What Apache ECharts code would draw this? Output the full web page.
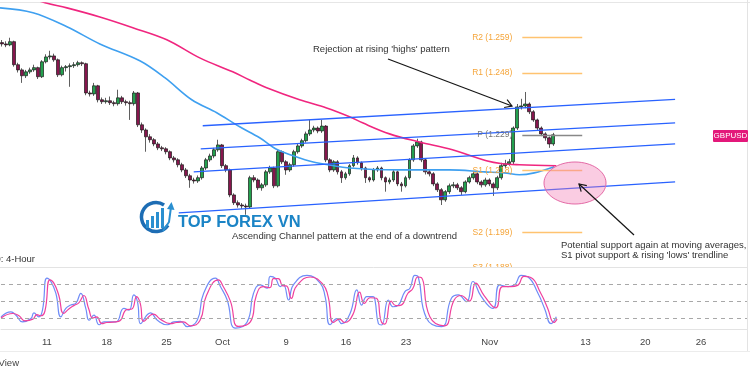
<!DOCTYPE html>
<html>
<head>
<meta charset="utf-8">
<script src="https://cdn.jsdelivr.net/npm/echarts@6.0.0/dist/echarts.min.js"></script>
<style>
  html, body { margin: 0; padding: 0; background: #fff; }
  #chart { width: 750px; height: 375px; }
</style>
</head>
<body>
<div id="chart"></div>
<script>
// 时间轴：每个槽位一根 4H K 线
const slotCount = 187
const dateSlots = [11, 26, 41, 55, 71, 86, 101, 122, 146, 161, 175]
const dateLabels = ['11', '18', '25', 'Oct', '9', '16', '23', 'Nov', '13', '20', '26']

// K 线数据
const openP = [1.2574,1.2570,1.2567,1.2577,1.2506,1.2490,1.2472,1.2484,1.2490,1.2497,
  1.2469,1.2515,1.2530,1.2533,1.2521,1.2475,1.2497,1.2500,1.2503,1.2506,
  1.2512,1.2509,1.2419,1.2416,1.2441,1.2398,1.2392,1.2395,1.2389,1.2386,
  1.2404,1.2392,1.2389,1.2386,1.2419,1.2321,1.2305,1.2284,1.2275,1.2262,
  1.2250,1.2247,1.2238,1.2219,1.2213,1.2198,1.2182,1.2164,1.2151,1.2148,
  1.2158,1.2188,1.2213,1.2225,1.2244,1.2259,1.2195,1.2182,1.2105,1.2081,
  1.2074,1.2071,1.2068,1.2158,1.2151,1.2127,1.2136,1.2176,1.2188,1.2133,
  1.2238,1.2207,1.2182,1.2198,1.2238,1.2256,1.2272,1.2293,1.2305,1.2311,
  1.2302,1.2317,1.2213,1.2182,1.2207,1.2176,1.2158,1.2170,1.2195,1.2219,
  1.2204,1.2188,1.2158,1.2151,1.2182,1.2188,1.2158,1.2145,1.2151,1.2176,
  1.2139,1.2133,1.2158,1.2213,1.2256,1.2268,1.2213,1.2176,1.2170,1.2139,
  1.2121,1.2090,1.2115,1.2133,1.2136,1.2127,1.2115,1.2145,1.2158,1.2170,
  1.2145,1.2136,1.2151,1.2139,1.2127,1.2158,1.2195,1.2201,1.2207,1.2311,
  1.2376,1.2379,1.2385,1.2361,1.2336,1.2311,1.2293,1.2281,1.2262]
const closeP = [1.2570,1.2567,1.2577,1.2506,1.2490,1.2472,1.2484,1.2490,1.2497,1.2469,
  1.2515,1.2530,1.2533,1.2521,1.2475,1.2497,1.2500,1.2503,1.2506,1.2512,
  1.2509,1.2419,1.2416,1.2441,1.2398,1.2392,1.2395,1.2389,1.2386,1.2404,
  1.2392,1.2389,1.2386,1.2419,1.2321,1.2305,1.2284,1.2275,1.2262,1.2250,
  1.2247,1.2238,1.2219,1.2213,1.2198,1.2182,1.2164,1.2151,1.2148,1.2158,
  1.2188,1.2213,1.2225,1.2244,1.2259,1.2195,1.2182,1.2105,1.2081,1.2074,
  1.2071,1.2068,1.2158,1.2151,1.2127,1.2136,1.2176,1.2188,1.2133,1.2238,
  1.2207,1.2182,1.2198,1.2238,1.2256,1.2272,1.2293,1.2305,1.2311,1.2302,
  1.2317,1.2213,1.2182,1.2207,1.2176,1.2158,1.2170,1.2195,1.2219,1.2204,
  1.2188,1.2158,1.2151,1.2182,1.2188,1.2158,1.2145,1.2151,1.2176,1.2139,
  1.2133,1.2158,1.2213,1.2256,1.2268,1.2213,1.2176,1.2170,1.2139,1.2121,
  1.2090,1.2115,1.2133,1.2136,1.2127,1.2115,1.2145,1.2158,1.2170,1.2145,
  1.2136,1.2151,1.2139,1.2127,1.2158,1.2195,1.2201,1.2207,1.2311,1.2376,
  1.2379,1.2385,1.2361,1.2336,1.2311,1.2293,1.2281,1.2262,1.2290]
const lowP = [1.2562,1.2560,1.2563,1.2500,1.2482,1.2450,1.2465,1.2478,1.2484,1.2462,
  1.2465,1.2510,1.2522,1.2515,1.2468,1.2470,1.2485,1.2438,1.2496,1.2500,
  1.2502,1.2412,1.2408,1.2410,1.2390,1.2385,1.2386,1.2382,1.2378,1.2380,
  1.2385,1.2380,1.2336,1.2380,1.2314,1.2296,1.2238,1.2266,1.2255,1.2243,
  1.2240,1.2230,1.2212,1.2205,1.2190,1.2175,1.2157,1.2127,1.2140,1.2142,
  1.2152,1.2182,1.2207,1.2218,1.2238,1.2188,1.2175,1.2098,1.2074,1.2066,
  1.2062,1.2044,1.2062,1.2144,1.2120,1.2118,1.2130,1.2170,1.2126,1.2128,
  1.2200,1.2167,1.2176,1.2192,1.2232,1.2250,1.2266,1.2287,1.2298,1.2295,
  1.2296,1.2206,1.2175,1.2176,1.2168,1.2142,1.2152,1.2164,1.2190,1.2198,
  1.2180,1.2142,1.2144,1.2146,1.2176,1.2150,1.2115,1.2138,1.2145,1.2132,
  1.2115,1.2128,1.2152,1.2207,1.2250,1.2206,1.2168,1.2162,1.2132,1.2114,
  1.2074,1.2084,1.2108,1.2126,1.2120,1.2105,1.2110,1.2140,1.2152,1.2138,
  1.2128,1.2130,1.2132,1.2102,1.2120,1.2152,1.2188,1.2195,1.2200,1.2305,
  1.2368,1.2372,1.2354,1.2330,1.2304,1.2286,1.2272,1.2250,1.2256]
const highP = [1.2582,1.2578,1.2589,1.2580,1.2512,1.2495,1.2490,1.2497,1.2506,1.2500,
  1.2520,1.2538,1.2549,1.2540,1.2525,1.2503,1.2505,1.2510,1.2514,1.2518,
  1.2516,1.2512,1.2426,1.2450,1.2444,1.2405,1.2404,1.2408,1.2395,1.2429,
  1.2410,1.2398,1.2395,1.2425,1.2422,1.2328,1.2310,1.2292,1.2280,1.2268,
  1.2256,1.2252,1.2242,1.2225,1.2218,1.2204,1.2188,1.2170,1.2158,1.2165,
  1.2194,1.2219,1.2232,1.2250,1.2275,1.2262,1.2200,1.2186,1.2110,1.2088,
  1.2080,1.2078,1.2164,1.2166,1.2156,1.2142,1.2182,1.2195,1.2192,1.2244,
  1.2242,1.2212,1.2204,1.2244,1.2262,1.2278,1.2300,1.2336,1.2318,1.2316,
  1.2336,1.2320,1.2218,1.2212,1.2212,1.2182,1.2176,1.2200,1.2228,1.2224,
  1.2208,1.2192,1.2162,1.2188,1.2194,1.2192,1.2162,1.2158,1.2182,1.2180,
  1.2145,1.2164,1.2218,1.2262,1.2278,1.2272,1.2218,1.2182,1.2175,1.2144,
  1.2126,1.2120,1.2140,1.2145,1.2142,1.2132,1.2150,1.2164,1.2179,1.2174,
  1.2150,1.2158,1.2156,1.2144,1.2164,1.2204,1.2213,1.2216,1.2316,1.2385,
  1.2401,1.2422,1.2390,1.2366,1.2340,1.2316,1.2298,1.2285,1.2296]

// 均线 [槽位, 价格]
const maBlue = [[-0.5,1.2681],[7.75,1.2666],[16.25,1.2623],[24.5,1.2570],[34.5,1.2518],
  [40.75,1.2466],[47.5,1.2398],[53.75,1.2358],[59.5,1.2315],[64.5,1.2281],[69,1.2244],
  [74.5,1.2219],[78.75,1.2204],[87,1.2188],[99.5,1.2182],[112,1.2182],[120.75,1.2176],
  [125.75,1.2173],[129.5,1.2167],[133.25,1.2173],[138.25,1.2192]]
const maPink = [[7,1.2712],[10.75,1.2697],[16.25,1.2681],[24.5,1.2653],[32.75,1.2620],
  [41.25,1.2583],[49.5,1.2527],[57.75,1.2484],[62,1.2459],[66.25,1.2435],[74.5,1.2398],
  [81.25,1.2373],[87,1.2346],[90.25,1.2327],[97,1.2293],[104.5,1.2268],[112.75,1.2244],
  [121.25,1.2210],[125.25,1.2201],[129.5,1.2198],[138.75,1.2195]]

// 上升通道
const channelLines = [
  [[50.25, 1.2318], [168.5, 1.2399]],
  [[49.75, 1.2247], [168.5, 1.2327]],
  [[48, 1.2176], [168.5, 1.2262]],
  [[44.25, 1.2050], [168.5, 1.2145]]
]

// 枢轴点
const pivotNames = ['R2', 'R1', 'P', 'S1', 'S2', 'S3']
const pivotValues = [1.259, 1.248, 1.229, 1.218, 1.199, 1.188]
const pivotSpan = [130.25, 145.25]

// 随机指标
const stochK = [[-0.5,22],[2,31],[3.25,25],[4.9,13],[7,19],[7.75,29],[9,22],[9.9,34],[11,91],
  [12,85],[13.25,64],[14.5,22],[15.75,37],[17,43],[18.25,46],[19.5,64],[20.75,37],[21.6,16],
  [22.8,25],[24.1,8],[25.3,13],[28.25,13],[30.3,37],[31.6,34],[32.8,61],[33.7,49],[34.5,10],
  [37,29],[38.7,16],[41.2,8],[42.8,13],[44.5,14],[46.2,4.5],[48.7,16],[50.3,64],[53.25,91],
  [54.5,76],[56.2,52],[58.25,2],[61.2,13],[62.8,64],[64.5,79],[66.2,73],[67,94],[68.25,91],
  [69.5,76],[70.3,79],[71.6,52],[72.8,79],[76.2,96],[79.5,82],[80.75,58],[82,8],[83.7,19],
  [84.9,10],[87,28],[88.7,70],[89.9,43],[91.2,58],[92.8,58],[93.25,52],[94.1,10],[94.9,7.5],
  [96.6,52],[97.8,40],[99.1,43],[100.75,67],[102,73],[103.25,96],[104.1,93],[106.2,19],
  [109.9,4.5],[112.4,55],[114.1,61],[116.2,49],[117.8,85],[119.9,58],[122.8,37],[124.5,79],
  [126.6,76],[128.25,79],[129.9,96],[131.6,93],[134.1,64],[135.75,37],[137.4,10],[138.7,22]]
const stochD = [[-0.5,20],[2.5,28],[4,24],[5.5,15],[7.5,18],[8.5,26],[9.5,24],[10.5,32],
  [11.75,88],[12.75,82],[14,60],[15.2,28],[16.5,36],[17.75,42],[19,47],[20.25,60],[21.5,36],
  [22.5,20],[23.5,22],[24.8,10],[26,12],[29,14],[31,35],[32.3,36],[33.5,58],[34.4,46],
  [35.3,14],[37.7,27],[39.4,18],[42,10],[43.5,12],[45.2,13],[47,6],[49.4,16],[51,60],[54,88],
  [55.2,76],[57,50],[59,5],[62,13],[63.5,60],[65.2,76],[66.9,74],[67.8,90],[69,90],[70.2,77],
  [71,77],[72.3,55],[73.5,76],[77,93],[80.2,80],[81.5,58],[82.8,12],[84.4,18],[85.6,12],
  [87.7,26],[89.4,66],[90.6,46],[92,56],[93.6,55],[94.8,14],[95.7,9],[97.3,50],[98.5,42],
  [99.8,43],[101.5,64],[102.7,72],[104,93],[104.9,92],[107,22],[110.6,6],[113.1,52],
  [114.8,60],[116.9,50],[118.5,82],[120.6,60],[123.5,38],[125.2,76],[127.3,76],[129,78],
  [130.6,94],[132.3,92],[134.8,64],[136.5,38],[138.1,12],[138.9,18]]
const stochLevels = [20, 50, 80]

const slots = Array.from({ length: slotCount }, (_, i) => i)
const slotLabels = slots.map((i) => {
  const k = dateSlots.indexOf(i)
  return k >= 0 ? dateLabels[k] : ''
})
const candles = openP.map((o, i) => [o, closeP[i], lowP[i], highP[i]])

const font = 'Liberation Sans, Arial, sans-serif'
const orange = '#f5a53a'

// 箭头
const arrow = (x1, y1, x2, y2, len = 8) => {
  const a = Math.atan2(y2 - y1, x2 - x1)
  const w1 = [x2 - len * Math.cos(a - 0.55), y2 - len * Math.sin(a - 0.55)]
  const w2 = [x2 - len * Math.cos(a + 0.55), y2 - len * Math.sin(a + 0.55)]
  return [
    { type: 'line', z: 20, shape: { x1, y1, x2, y2 }, style: { stroke: '#151515', lineWidth: 1.2 } },
    { type: 'polyline', z: 20, shape: { points: [w1, [x2, y2], w2] }, style: { stroke: '#151515', lineWidth: 1.2, fill: null } }
  ]
}
const note = (text, x, y, size = 9.5) => ({
  type: 'text', z: 20, x, y,
  style: { text, fill: '#333', font: `${size}px ${font}`, textVerticalAlign: 'middle' }
})

const chart = echarts.init(document.getElementById('chart'))

const option = {
  animation: false,
  backgroundColor: '#fff',
  grid: [
    { left: 0, right: 3, top: 3, height: 265 },
    { left: 0, right: 3, top: 268, height: 66 }
  ],
  xAxis: [
    { type: 'category', gridIndex: 0, data: slots, show: false },
    { type: 'value', gridIndex: 0, min: -0.5, max: slotCount - 0.5, show: false },
    {
      type: 'category', gridIndex: 1, data: slotLabels,
      axisLine: { lineStyle: { color: '#e3e3e3' } },
      axisTick: { show: false },
      axisLabel: { interval: 0, margin: 3, color: '#444', fontSize: 9.5, fontFamily: font }
    },
    { type: 'value', gridIndex: 1, min: -0.5, max: slotCount - 0.5, show: false }
  ],
  yAxis: [
    { type: 'value', gridIndex: 0, min: 1.188, max: 1.2696, show: false },
    { type: 'value', gridIndex: 1, min: -8.5, max: 109, show: false }
  ],
  series: [
    {
      type: 'candlestick',
      xAxisIndex: 0, yAxisIndex: 0,
      barWidth: 3.4,
      data: candles,
      itemStyle: {
        color: '#23a04e', color0: '#86164d',
        borderColor: '#1a1a1a', borderColor0: '#1a1a1a', borderWidth: 0.7
      }
    },
    {
      type: 'line', xAxisIndex: 1, yAxisIndex: 0, data: maBlue,
      showSymbol: false, smooth: 0.35, lineStyle: { color: '#3fa0f0', width: 1.6 }
    },
    {
      type: 'line', xAxisIndex: 1, yAxisIndex: 0, data: maPink,
      showSymbol: false, smooth: 0.35, lineStyle: { color: '#f0267f', width: 1.6 }
    },
    ...channelLines.map((d) => ({
      type: 'line', xAxisIndex: 1, yAxisIndex: 0, data: d,
      showSymbol: false, lineStyle: { color: '#2962ff', width: 1.3 }
    })),
    {
      type: 'line', xAxisIndex: 1, yAxisIndex: 0, data: [],
      markLine: {
        silent: true, symbol: ['none', 'none'], animation: false,
        data: pivotValues.map((v, i) => {
          const c = pivotNames[i] === 'P' ? '#777' : orange
          return [
            {
              coord: [pivotSpan[0], v],
              lineStyle: { color: pivotNames[i] === 'P' ? '#888' : '#ffc370', width: 1.3, type: 'solid' },
              label: {
                show: true, position: 'start', distance: 10,
                formatter: `${pivotNames[i]} (${v.toFixed(3)})`,
                color: c, fontSize: 8.5, fontFamily: font
              }
            },
            { coord: [pivotSpan[1], v] }
          ]
        })
      }
    },
    {
      type: 'line', xAxisIndex: 3, yAxisIndex: 1, data: stochK,
      showSymbol: false, smooth: 0.5, lineStyle: { color: '#6f8cf7', width: 1.2 }
    },
    {
      type: 'line', xAxisIndex: 3, yAxisIndex: 1, data: stochD,
      showSymbol: false, smooth: 0.5, lineStyle: { color: '#f0409c', width: 1.2 },
      markLine: {
        silent: true, symbol: ['none', 'none'], animation: false, label: { show: false },
        lineStyle: { color: '#a8a8a8', type: [4, 4], width: 1 },
        data: stochLevels.map((v) => ({ yAxis: v }))
      }
    }
  ],
  graphic: [
    // 面板边框
    { type: 'line', shape: { x1: 0, y1: 2.5, x2: 750, y2: 2.5 }, style: { stroke: '#e6e6e6' } },
    { type: 'rect', z: 10, shape: { x: 0, y: 267, width: 747, height: 5 }, style: { fill: '#fff' } },
    { type: 'line', z: 11, shape: { x1: 0, y1: 267.5, x2: 747, y2: 267.5 }, style: { stroke: '#e3e3e3' } },
    { type: 'line', z: 11, shape: { x1: 747.5, y1: 0, x2: 747.5, y2: 352 }, style: { stroke: '#e3e3e3' } },
    { type: 'line', z: 11, shape: { x1: 0, y1: 351.5, x2: 750, y2: 351.5 }, style: { stroke: '#ececec' } },
    {
      type: 'text', z: 20, x: 35, y: 259,
      style: { text: '240: 4-Hour', fill: '#333', font: `9.5px ${font}`, textAlign: 'right', textVerticalAlign: 'middle' }
    },
    {
      type: 'text', z: 20, x: 19, y: 363,
      style: { text: 'TradingView', fill: '#444', font: `9.5px ${font}`, textAlign: 'right', textVerticalAlign: 'middle' }
    },
    // 标注
    note("Rejection at rising 'highs' pattern", 313, 49),
    ...arrow(388, 59, 512, 106),
    note('Ascending Channel pattern at the end of a downtrend', 232, 236),
    note('Potential support again at moving averages,', 561, 245),
    note("S1 pivot support & rising 'lows' trendline", 561, 255),
    {
      type: 'ellipse', z: 15, shape: { cx: 575, cy: 183, rx: 31, ry: 21 },
      style: { fill: 'rgba(242,120,180,0.38)', stroke: '#e46aa6', lineWidth: 1 }
    },
    ...arrow(634, 235, 579, 184),
    // 品种标签
    { type: 'rect', z: 20, shape: { x: 713, y: 130, width: 35, height: 12, r: 1 }, style: { fill: '#e3187a' } },
    {
      type: 'text', z: 21, x: 730.5, y: 136,
      style: { text: 'GBPUSD', fill: '#fff', font: `8px ${font}`, textAlign: 'center', textVerticalAlign: 'middle' }
    },
    // 水印 logo
    {
      type: 'arc', z: 18, shape: { cx: 156, cy: 217, r: 14.5, startAngle: 0.6, endAngle: 5.3 },
      style: { stroke: '#1d6db4', lineWidth: 3.5, fill: null }
    },
    { type: 'rect', z: 18, shape: { x: 146, y: 220, width: 3, height: 8 }, style: { fill: '#2a8fd0' } },
    { type: 'rect', z: 18, shape: { x: 151, y: 216, width: 3, height: 12 }, style: { fill: '#2a8fd0' } },
    { type: 'rect', z: 18, shape: { x: 156, y: 212, width: 3, height: 16 }, style: { fill: '#2a8fd0' } },
    { type: 'rect', z: 18, shape: { x: 161, y: 208, width: 3, height: 20 }, style: { fill: '#2a8fd0' } },
    {
      type: 'polyline', z: 18, shape: { points: [[163, 231], [169, 222], [171, 207]] },
      style: { stroke: '#2a8fd0', lineWidth: 2, fill: null }
    },
    {
      type: 'polygon', z: 18, shape: { points: [[167, 209], [171.5, 202], [174.5, 210]] },
      style: { fill: '#2a8fd0' }
    },
    {
      type: 'text', z: 18, x: 178, y: 222,
      style: { text: 'TOP FOREX VN', fill: '#1b84c6', font: `bold 16.5px ${font}`, textVerticalAlign: 'middle' }
    }
  ]
}

chart.setOption(option)
</script>
</body>
</html>
